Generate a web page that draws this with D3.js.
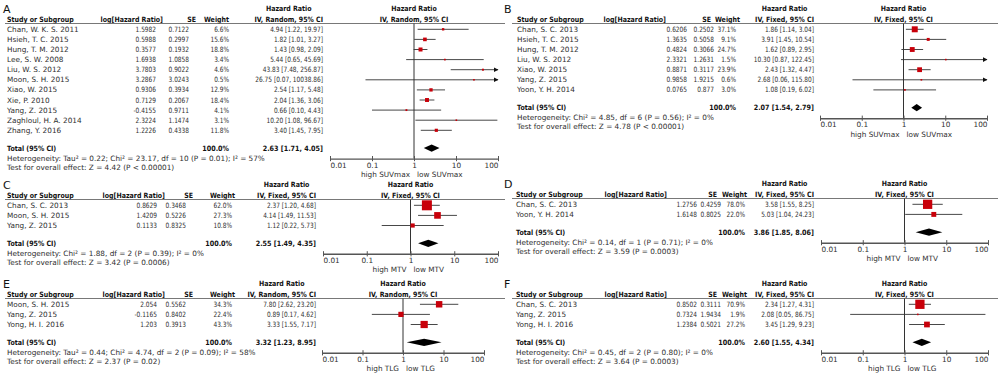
<!DOCTYPE html>
<html>
<head>
<meta charset="utf-8">
<script src="https://cdn.jsdelivr.net/npm/d3@7"></script>
<style>
  body { margin: 0; background: #fff; }
  text { font-family: "DejaVu Sans", sans-serif; font-size: 7.3px; fill: #2e2e2e; }
  text.b { font-weight: bold; fill: #111; }
  text.letter { font-size: 11px; fill: #111; }
</style>
</head>
<body>
<svg id="chart" width="1000" height="376"></svg>
<script>
// ---- panel A : SUVmax, random effects
const studyA = ["Chan, W. K. S. 2011", "Hsieh, T. C. 2015", "Hung, T. M. 2012", "Lee, S. W. 2008", "Liu, W. S. 2012",
  "Moon, S. H. 2015", "Xiao, W. 2015", "Xie, P. 2010", "Yang, Z. 2015", "Zaghloul, H. A. 2014", "Zhang, Y. 2016"];
const logHrA = [1.5982, 0.5988, 0.3577, 1.6938, 3.7803, 3.2867, 0.9306, 0.7129, -0.4155, 2.3224, 1.2226];
const seA = [0.7122, 0.2997, 0.1932, 1.0858, 0.9022, 3.0243, 0.3934, 0.2067, 0.9711, 1.1474, 0.4338];
const weightA = [6.6, 15.6, 18.8, 3.4, 4.6, 0.5, 12.9, 18.4, 4.1, 3.1, 11.8];
const hrA = [4.94, 1.82, 1.43, 5.44, 43.83, 26.75, 2.54, 2.04, 0.66, 10.20, 3.40];
const lowA = [1.22, 1.01, 0.98, 0.65, 7.48, 0.07, 1.17, 1.36, 0.10, 1.08, 1.45];
const highA = [19.97, 3.27, 2.09, 45.69, 256.87, 10038.86, 5.48, 3.06, 4.43, 96.67, 7.95];
const totalA = [2.63, 1.71, 4.05];
const hetA = "Heterogeneity: Tau² = 0.22; Chi² = 23.17, df = 10 (P = 0.01); I² = 57%";
const testA = "Test for overall effect: Z = 4.42 (P < 0.00001)";

// ---- panel B : SUVmax, fixed effects
const studyB = ["Chan, S. C. 2013", "Hsieh, T. C. 2015", "Hung, T. M. 2012", "Liu, W. S. 2012", "Xiao, W. 2015",
  "Yang, Z. 2015", "Yoon, Y. H. 2014"];
const logHrB = [0.6206, 1.3635, 0.4824, 2.3321, 0.8871, 0.9858, 0.0765];
const seB = [0.2502, 0.5058, 0.3066, 1.2631, 0.3117, 1.9215, 0.877];
const weightB = [37.1, 9.1, 24.7, 1.5, 23.9, 0.6, 3.0];
const hrB = [1.86, 3.91, 1.62, 10.30, 2.43, 2.68, 1.08];
const lowB = [1.14, 1.45, 0.89, 0.87, 1.32, 0.06, 0.19];
const highB = [3.04, 10.54, 2.95, 122.45, 4.47, 115.80, 6.02];
const totalB = [2.07, 1.54, 2.79];
const hetB = "Heterogeneity: Chi² = 4.85, df = 6 (P = 0.56); I² = 0%";
const testB = "Test for overall effect: Z = 4.78 (P < 0.00001)";

// ---- panel C : MTV, fixed
const studyC = ["Chan, S. C. 2013", "Moon, S. H. 2015", "Yang, Z. 2015"];
const logHrC = [0.8629, 1.4209, 0.1133];
const seC = [0.3468, 0.5226, 0.8325];
const weightC = [62.0, 27.3, 10.8];
const hrC = [2.37, 4.14, 1.12];
const lowC = [1.20, 1.49, 0.22];
const highC = [4.68, 11.53, 5.73];
const totalC = [2.55, 1.49, 4.35];
const hetC = "Heterogeneity: Chi² = 1.88, df = 2 (P = 0.39); I² = 0%";
const testC = "Test for overall effect: Z = 3.42 (P = 0.0006)";

// ---- panel D : MTV, fixed
const studyD = ["Chan, S. C. 2013", "Yoon, Y. H. 2014"];
const logHrD = [1.2756, 1.6148];
const seD = [0.4259, 0.8025];
const weightD = [78.0, 22.0];
const hrD = [3.58, 5.03];
const lowD = [1.55, 1.04];
const highD = [8.25, 24.23];
const totalD = [3.86, 1.85, 8.06];
const hetD = "Heterogeneity: Chi² = 0.14, df = 1 (P = 0.71); I² = 0%";
const testD = "Test for overall effect: Z = 3.59 (P = 0.0003)";

// ---- panel E : TLG, random
const studyE = ["Moon, S. H. 2015", "Yang, Z. 2015", "Yong, H. I. 2016"];
const logHrE = [2.054, -0.1165, 1.203];
const seE = [0.5562, 0.8402, 0.3913];
const weightE = [34.3, 22.4, 43.3];
const hrE = [7.80, 0.89, 3.33];
const lowE = [2.62, 0.17, 1.55];
const highE = [23.20, 4.62, 7.17];
const totalE = [3.32, 1.23, 8.95];
const hetE = "Heterogeneity: Tau² = 0.44; Chi² = 4.74, df = 2 (P = 0.09); I² = 58%";
const testE = "Test for overall effect: Z = 2.37 (P = 0.02)";

// ---- panel F : TLG, fixed
const studyF = ["Chan, S. C. 2013", "Yang, Z. 2015", "Yong, H. I. 2016"];
const logHrF = [0.8502, 0.7324, 1.2384];
const seF = [0.3111, 1.9434, 0.5021];
const weightF = [70.9, 1.9, 27.2];
const hrF = [2.34, 2.08, 3.45];
const lowF = [1.27, 0.05, 1.29];
const highF = [4.31, 86.75, 9.23];
const totalF = [2.60, 1.55, 4.34];
const hetF = "Heterogeneity: Chi² = 0.45, df = 2 (P = 0.80); I² = 0%";
const testF = "Test for overall effect: Z = 3.64 (P = 0.0003)";

const tickVals = [0.01, 0.1, 1, 10, 100];

// layout of each panel (pixel positions)
const layA = {top: 8, left: 5, right: 505, letterX: 3, name: 7,
  logR: 156, seR: 189, wR: 229, logH: 163, seH: 196, wH: 229, hrR: 323, ax0: 330, ax1: 498, sq100: 9.2};
const layB = {top: 8, left: 512, right: 998, letterX: 504, name: 517,
  logR: 687, seR: 714, wR: 736, logH: 666, seH: 711, wH: 740, hrR: 814, ax0: 820, ax1: 987, sq100: 9.8};
const layC = {top: 184, left: 5, right: 505, letterX: 3, name: 7,
  logR: 157, seR: 186, wR: 232, logH: 165, seH: 193, wH: 235, hrR: 316, ax0: 323, ax1: 498, sq100: 12.7};
const layD = {top: 183, left: 512, right: 998, letterX: 504, name: 516,
  logR: 697, seR: 721, wR: 745, logH: 667, seH: 717, wH: 747, hrR: 814, ax0: 821, ax1: 988, sq100: 10.5};
const layE = Object.assign({}, layC, {top: 283, ax0: 322, ax1: 484, sq100: 11});
const layF = Object.assign({}, layD, {top: 283, sq100: 11});

const panels = [
  {letter: "A", model: "Random", lo: "high SUVmax", hi: "low SUVmax", lay: layA,
   study: studyA, logHr: logHrA, se: seA, weight: weightA, hr: hrA, low: lowA, high: highA, total: totalA, het: hetA, test: testA},
  {letter: "B", model: "Fixed", lo: "high SUVmax", hi: "low SUVmax", lay: layB,
   study: studyB, logHr: logHrB, se: seB, weight: weightB, hr: hrB, low: lowB, high: highB, total: totalB, het: hetB, test: testB},
  {letter: "C", model: "Fixed", lo: "high MTV", hi: "low MTV", lay: layC,
   study: studyC, logHr: logHrC, se: seC, weight: weightC, hr: hrC, low: lowC, high: highC, total: totalC, het: hetC, test: testC},
  {letter: "D", model: "Fixed", lo: "high MTV", hi: "low MTV", lay: layD,
   study: studyD, logHr: logHrD, se: seD, weight: weightD, hr: hrD, low: lowD, high: highD, total: totalD, het: hetD, test: testD},
  {letter: "E", model: "Random", lo: "high TLG", hi: "low TLG", lay: layE,
   study: studyE, logHr: logHrE, se: seE, weight: weightE, hr: hrE, low: lowE, high: highE, total: totalE, het: hetE, test: testE},
  {letter: "F", model: "Fixed", lo: "high TLG", hi: "low TLG", lay: layF,
   study: studyF, logHr: logHrF, se: seF, weight: weightF, hr: hrF, low: lowF, high: highF, total: totalF, het: hetF, test: testF}
];

const svg = d3.select("#chart");
const f2 = d3.format(".2f");
const f1 = d3.format(".1f");
const ciText = (h, l, u) => f2(h) + " [" + f2(l) + ", " + f2(u) + "]";

// the source figure uses narrower glyphs for numbers and bold labels
function squeeze(sel, k) {
  const len = sel.node().getComputedTextLength();
  return sel.attr("textLength", len * k).attr("lengthAdjust", "spacingAndGlyphs");
}

panels.forEach(drawPanel);

function drawPanel(p) {
  const L = p.lay;
  const g = svg.append("g");
  const n = p.study.length;

  const y = d3.scaleLinear().domain([0, 1]).range([L.top + 21.3, L.top + 31.4]);
  const yTot = y(n - 1) + 17.8;
  const yAxis = yTot + 10.5;
  const x = d3.scaleLog().domain([0.01, 100]).range([L.ax0, L.ax1]);
  const sq = d3.scaleSqrt().domain([0, 100]).range([0, L.sq100]);

  const txt = (xx, yy, s, anchor, cls) => g.append("text")
    .attr("x", xx).attr("y", yy).attr("dy", "0.35em")
    .attr("text-anchor", anchor || "start").attr("class", cls || null).text(s);
  const num = (xx, yy, s, cls) => squeeze(txt(xx, yy, s, "end", cls), cls ? 0.88 : 0.8);
  const bold = (xx, yy, s, anchor) => squeeze(txt(xx, yy, s, anchor, "b"), 0.86);

  // panel letter
  g.append("text").attr("class", "letter").attr("x", L.letterX).attr("y", L.top + 4.5).text(p.letter);

  // headers
  const h2 = L.top + 11;
  bold(L.name, h2, "Study or Subgroup", "start");
  bold(L.logH, h2, "log[Hazard Ratio]", "end");
  bold(L.seH, h2, "SE", "end");
  bold(L.wH, h2, "Weight", "end");
  const ivt = bold(L.hrR, h2, "IV, " + p.model + ", 95% CI", "end");
  const w = +ivt.attr("textLength");
  bold(L.hrR - w / 2, L.top, "Hazard Ratio", "middle");
  bold(x(1), L.top, "Hazard Ratio", "middle");
  bold(x(1), h2, "IV, " + p.model + ", 95% CI", "middle");

  g.append("line").attr("x1", L.left).attr("x2", L.right)
    .attr("y1", L.top + 15.5).attr("y2", L.top + 15.5)
    .attr("stroke", "#555").attr("stroke-width", 0.8);

  // no-effect line
  g.append("line").attr("x1", x(1)).attr("x2", x(1))
    .attr("y1", L.top + 15.5).attr("y2", yAxis)
    .attr("stroke", "#333").attr("stroke-width", 1);

  // study rows
  const rows = d3.range(n);
  rows.forEach(i => {
    txt(L.name, y(i), p.study[i]);
    num(L.logR, y(i), String(p.logHr[i]));
    num(L.seR, y(i), String(p.se[i]));
    num(L.wR, y(i), f1(p.weight[i]) + "%");
    num(L.hrR, y(i), ciText(p.hr[i], p.low[i], p.high[i]));
  });

  const ci = g.append("g");
  ci.selectAll("line").data(rows).join("line")
    .attr("x1", i => x(Math.max(p.low[i], 0.01)))
    .attr("x2", i => x(Math.min(p.high[i], 100)))
    .attr("y1", i => y(i)).attr("y2", i => y(i))
    .attr("stroke", "#333").attr("stroke-width", 0.9);

  // arrows where the interval runs off the scale
  ci.selectAll("path.arr").data(rows.filter(i => p.high[i] > 100)).join("path")
    .attr("class", "arr")
    .attr("d", i => `M${x(100) - 4},${y(i) - 2.3}L${x(100) + 0.5},${y(i)}L${x(100) - 4},${y(i) + 2.3}Z`)
    .attr("fill", "#111");
  ci.selectAll("path.arl").data(rows.filter(i => p.low[i] < 0.01)).join("path")
    .attr("class", "arl")
    .attr("d", i => `M${x(0.01) + 4},${y(i) - 2.3}L${x(0.01) - 0.5},${y(i)}L${x(0.01) + 4},${y(i) + 2.3}Z`)
    .attr("fill", "#111");

  const side = i => Math.max(sq(p.weight[i]), 1.6);
  ci.selectAll("rect").data(rows).join("rect")
    .attr("x", i => x(p.hr[i]) - side(i) / 2)
    .attr("y", i => y(i) - side(i) / 2)
    .attr("width", side).attr("height", side)
    .attr("fill", "#c8000a");

  // total row
  bold(L.name, yTot, "Total (95% CI)", "start");
  num(L.wR, yTot, "100.0%", "b");
  num(L.hrR, yTot, ciText(p.total[0], p.total[1], p.total[2]), "b");
  g.append("path")
    .attr("d", `M${x(p.total[1])},${yTot}L${x(p.total[0])},${yTot - 3.6}L${x(p.total[2])},${yTot}L${x(p.total[0])},${yTot + 3.6}Z`)
    .attr("fill", "#000");

  txt(L.name, yTot + 10, p.het);
  txt(L.name, yTot + 19, p.test);

  // axis
  const axis = d3.axisBottom(x).tickValues(tickVals).tickFormat(d => String(d))
    .tickSize(2.6).tickSizeOuter(0).tickPadding(1.5);
  const ag = g.append("g").attr("transform", `translate(0,${yAxis})`).call(axis);
  ag.select(".domain").attr("stroke", "#555").attr("stroke-width", 1.4);
  ag.selectAll(".tick line").attr("y1", -2.6).attr("stroke", "#555").attr("stroke-width", 1);
  ag.selectAll(".tick text").attr("dy", "0.71em")
    .attr("text-anchor", d => d === 0.01 ? "start" : d === 100 ? "end" : "middle");

  txt(x(1) - 4, yAxis + 16, p.lo, "end");
  txt(x(1) + 3, yAxis + 16, p.hi, "start");
}
</script>
</body>
</html>
